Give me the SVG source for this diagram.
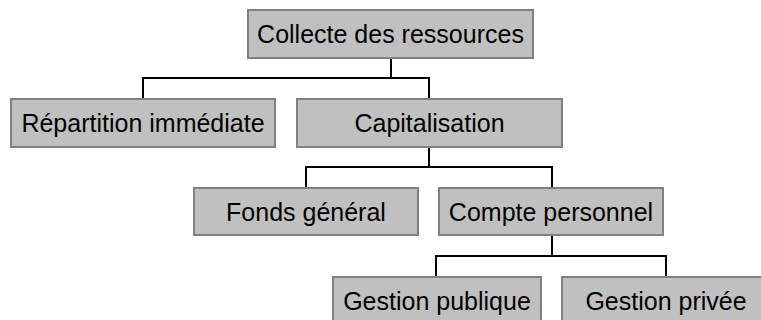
<svg xmlns="http://www.w3.org/2000/svg" width="761" height="320" viewBox="0 0 761 320">
<style>
.box{fill:#c0c0c0;stroke:#808080;stroke-width:2}
.lbl{font-family:"Liberation Sans",Arial,sans-serif;font-size:25px;fill:#000;text-anchor:middle}
.con{fill:none;stroke:#000;stroke-width:2}
</style>
<rect width="761" height="320" fill="#fff"/>
<g id="connectors">
<path class="con" d="M391 58V78M143 99V78H429V99"/>
<path class="con" d="M429 147V167M306 188V167H552V188"/>
<path class="con" d="M552 235V256M436 277V256H666V277"/>
</g>
<g id="n1"><rect class="box" x="248" y="10" width="285" height="48"/><text class="lbl" x="390.5" y="43">Collecte des ressources</text></g>
<g id="n2"><rect class="box" x="11" y="99" width="264" height="48"/><text class="lbl" x="143" y="132">Répartition immédiate</text></g>
<g id="n3"><rect class="box" x="297" y="99" width="265" height="48"/><text class="lbl" x="429.5" y="132">Capitalisation</text></g>
<g id="n4"><rect class="box" x="194" y="188" width="224" height="47"/><text class="lbl" x="306" y="221">Fonds général</text></g>
<g id="n5"><rect class="box" x="439" y="188" width="224" height="47"/><text class="lbl" x="551" y="221">Compte personnel</text></g>
<g id="n6"><rect class="box" x="333" y="277" width="208" height="48"/><text class="lbl" x="437" y="310">Gestion publique</text></g>
<g id="n7"><rect class="box" x="562" y="277" width="208" height="48"/><text class="lbl" x="666" y="310">Gestion privée</text></g>
</svg>
